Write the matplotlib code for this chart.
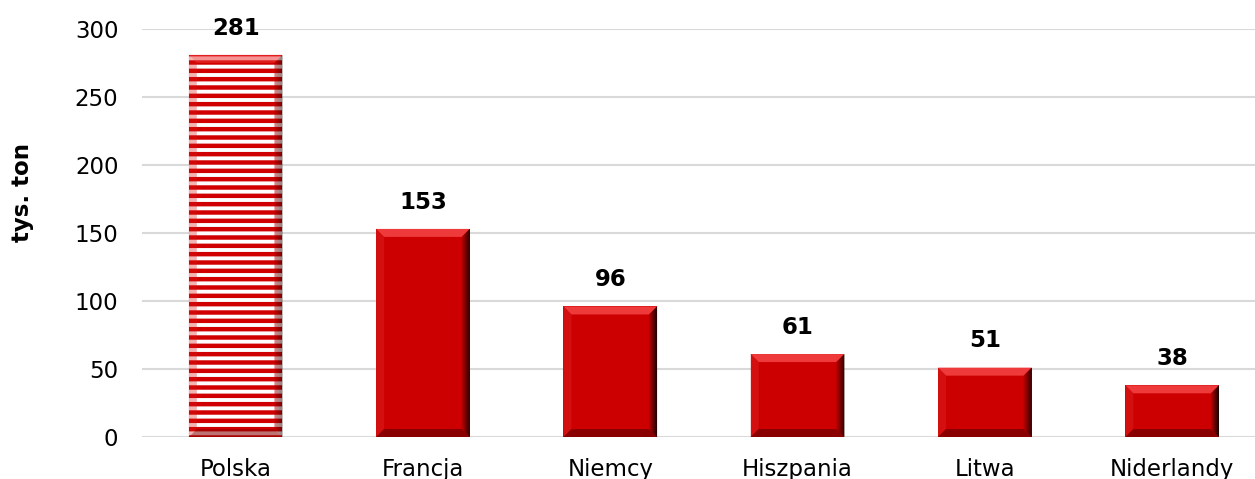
import matplotlib
matplotlib.use("Agg")
import matplotlib.pyplot as plt
from matplotlib.patches import Polygon

categories = ["Polska", "Francja", "Niemcy", "Hiszpania", "Litwa", "Niderlandy"]
values = [281, 153, 96, 61, 51, 38]
yticks = [0, 50, 100, 150, 200, 250, 300]

plt.rcParams['font.family'] = ['DejaVu Sans']
plt.rcParams['hatch.linewidth'] = 3.2
plt.rcParams['hatch.color'] = '#d00000'

W, H = 1255, 479
fig = plt.figure(figsize=(W / 100, H / 100), dpi=100)
ax_left, ax_right = 142, 1255
ax_bottom, ax_top = 42, 450
ax = fig.add_axes([ax_left / W, ax_bottom / H, (ax_right - ax_left) / W, (ax_top - ax_bottom) / H])

x = list(range(len(categories)))
spacing_px = 187.3
xmin = -0.5
xmax = xmin + (ax_right - ax_left) / spacing_px
ax.set_xlim(xmin, xmax)
ax.set_ylim(0, 300)
ax.set_yticks(yticks)
ax.yaxis.grid(True, color='#d9d9d9', linewidth=1.5)
ax.set_axisbelow(True)
for s in ax.spines.values():
    s.set_visible(False)
ax.tick_params(axis='both', length=0, labelsize=16.5, colors='black')
ax.tick_params(axis='y', pad=17)
ax.tick_params(axis='x', pad=15)
ax.set_xticks(x)
ax.set_xticklabels(categories)
ax.set_ylabel("tys. ton", fontsize=16.5, fontweight='bold')
ax.yaxis.set_label_coords(-0.097, 0.60)

bw = 0.5
for i, v in enumerate(values):
    if i == 0:
        ax.bar(i, v, width=bw, color='white', hatch='--', edgecolor='#d00000', linewidth=0, zorder=2)
    else:
        ax.bar(i, v, width=bw, color='#cc0000', linewidth=0, zorder=2)

# bevel
px_x = (xmax - xmin) / (ax_right - ax_left)
px_y = 300 / (ax_top - ax_bottom)
bev = 8
for i, v in enumerate(values):
    x0, x1 = i - bw / 2, i + bw / 2
    y0, y1 = 0, v
    dx, dy = bev * px_x, bev * px_y
    a = 0.55 if i == 0 else 1.0
    top = Polygon([(x0, y1), (x1, y1), (x1 - dx, y1 - dy), (x0 + dx, y1 - dy)], closed=True,
                  facecolor='#ee3a3a', edgecolor='none', alpha=a, zorder=3)
    left = Polygon([(x0, y1), (x0 + dx, y1 - dy), (x0 + dx, y0 + dy), (x0, y0)], closed=True,
                   facecolor='#d81a1a', edgecolor='none', alpha=a * 0.6, zorder=3)
    bottom = Polygon([(x0, y0), (x0 + dx, y0 + dy), (x1 - dx, y0 + dy), (x1, y0)], closed=True,
                     facecolor='#8a0000', edgecolor='none', alpha=a, zorder=3)
    ax.add_patch(top)
    ax.add_patch(left)
    ax.add_patch(bottom)
    n = 8
    cols = ['#b00000', '#9a0000', '#850000', '#700000', '#5a0000', '#450000', '#300000', '#1a0000']
    for k in range(n):
        xa = x1 - dx + k * dx / n
        xb = x1 - dx + (k + 1) * dx / n
        ya_t = y1 - dy + k * dy / n
        yb_t = y1 - dy + (k + 1) * dy / n
        ya_b = y0 + dy - k * dy / n
        yb_b = y0 + dy - (k + 1) * dy / n
        ax.add_patch(Polygon([(xa, ya_t), (xb, yb_t), (xb, yb_b), (xa, ya_b)], closed=True,
                             facecolor=cols[k], edgecolor='none', alpha=a, zorder=3))
    ax.annotate(str(v), (i, v), xytext=(0, 11), textcoords='offset points',
                ha='center', va='bottom', fontsize=16.5, fontweight='bold', color='black', zorder=5)

fig.savefig("out.png", dpi=100)
